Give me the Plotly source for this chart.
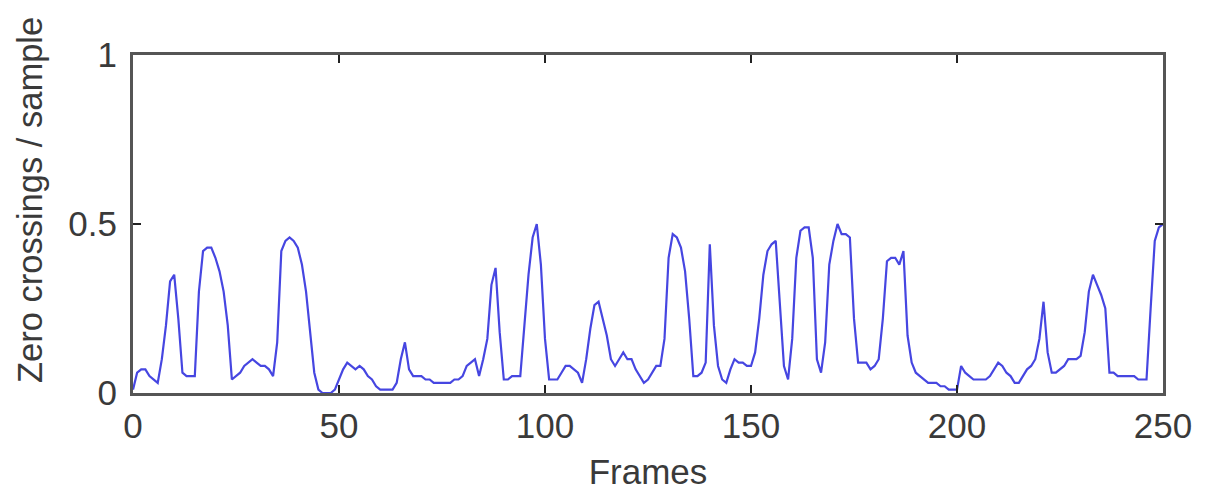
import plotly.graph_objects as go

frames = list(range(0, 251))
zcr = [
    0.01, 0.06, 0.07, 0.07, 0.05, 0.04, 0.03, 0.10, 0.20, 0.33,   # 0-9
    0.35, 0.22, 0.06, 0.05, 0.05, 0.05, 0.30, 0.42, 0.43, 0.43,   # 10-19
    0.40, 0.36, 0.30, 0.20, 0.04, 0.05, 0.06, 0.08, 0.09, 0.10,   # 20-29
    0.09, 0.08, 0.08, 0.07, 0.05, 0.15, 0.42, 0.45, 0.46, 0.45,   # 30-39
    0.43, 0.38, 0.30, 0.18, 0.06, 0.01, 0.00, 0.00, 0.00, 0.01,   # 40-49
    0.04, 0.07, 0.09, 0.08, 0.07, 0.08, 0.07, 0.05, 0.04, 0.02,   # 50-59
    0.01, 0.01, 0.01, 0.01, 0.03, 0.10, 0.15, 0.07, 0.05, 0.05,   # 60-69
    0.05, 0.04, 0.04, 0.03, 0.03, 0.03, 0.03, 0.03, 0.04, 0.04,   # 70-79
    0.05, 0.08, 0.09, 0.10, 0.05, 0.10, 0.16, 0.32, 0.37, 0.18,   # 80-89
    0.04, 0.04, 0.05, 0.05, 0.05, 0.20, 0.35, 0.46, 0.50, 0.38,   # 90-99
    0.16, 0.04, 0.04, 0.04, 0.06, 0.08, 0.08, 0.07, 0.06, 0.03,   # 100-109
    0.10, 0.19, 0.26, 0.27, 0.22, 0.17, 0.10, 0.08, 0.10, 0.12,   # 110-119
    0.10, 0.10, 0.07, 0.05, 0.03, 0.04, 0.06, 0.08, 0.08, 0.16,   # 120-129
    0.40, 0.47, 0.46, 0.43, 0.36, 0.22, 0.05, 0.05, 0.06, 0.09,   # 130-139
    0.44, 0.20, 0.08, 0.04, 0.03, 0.07, 0.10, 0.09, 0.09, 0.08,   # 140-149
    0.08, 0.12, 0.22, 0.35, 0.42, 0.44, 0.45, 0.27, 0.08, 0.04,   # 150-159
    0.16, 0.40, 0.48, 0.49, 0.49, 0.40, 0.10, 0.06, 0.15, 0.38,   # 160-169
    0.45, 0.50, 0.47, 0.47, 0.46, 0.22, 0.09, 0.09, 0.09, 0.07,   # 170-179
    0.08, 0.10, 0.22, 0.39, 0.40, 0.40, 0.38, 0.42, 0.17, 0.09,   # 180-189
    0.06, 0.05, 0.04, 0.03, 0.03, 0.03, 0.02, 0.02, 0.01, 0.01,   # 190-199
    0.01, 0.08, 0.06, 0.05, 0.04, 0.04, 0.04, 0.04, 0.05, 0.07,   # 200-209
    0.09, 0.08, 0.06, 0.05, 0.03, 0.03, 0.05, 0.07, 0.08, 0.10,   # 210-219
    0.16, 0.27, 0.12, 0.06, 0.06, 0.07, 0.08, 0.10, 0.10, 0.10,   # 220-229
    0.11, 0.18, 0.30, 0.35, 0.32, 0.29, 0.25, 0.06, 0.06, 0.05,   # 230-239
    0.05, 0.05, 0.05, 0.05, 0.04, 0.04, 0.04, 0.25, 0.45, 0.49,   # 240-249
    0.50,                                                         # 250
]

x_ticks = [0, 50, 100, 150, 200, 250]
y_ticks = [0, 0.5, 1]
y_tick_labels = ["0", "0.5", "1"]
x_title = "Frames"
y_title = "Zero crossings / sample"

font_family = "Liberation Sans, Arial, sans-serif"
text_color = "#3a3a3a"
frame_color = "#555555"

fig = go.Figure()
fig.add_trace(go.Scatter(
    x=frames, y=zcr, mode="lines",
    line=dict(color="rgb(70,70,225)", width=2.2),
    showlegend=False,
))

fig.update_layout(
    width=1198, height=493,
    margin=dict(l=125, r=43, t=47, b=108),
    paper_bgcolor="white", plot_bgcolor="white",
    font=dict(family=font_family, color=text_color, size=35),
    xaxis=dict(
        range=[0, 250], tickvals=x_ticks, ticks="inside", ticklen=8,
        tickcolor="#222", tickwidth=2,
        showline=True, linecolor=frame_color, linewidth=3, mirror="allticks",
        showgrid=False, zeroline=False,
        tickfont=dict(size=35, family=font_family, color=text_color),
        ticklabelstandoff=0,
        title=dict(text=x_title, font=dict(size=35, family=font_family, color=text_color), standoff=16),
    ),
    yaxis=dict(
        range=[0, 1], tickvals=y_ticks, ticktext=y_tick_labels, ticks="inside", ticklen=8,
        tickcolor="#222", tickwidth=2,
        showline=True, linecolor=frame_color, linewidth=3, mirror="allticks",
        showgrid=False, zeroline=False,
        tickfont=dict(size=35, family=font_family, color=text_color),
        ticklabelstandoff=6,
    ),
    annotations=[dict(
        text=y_title, textangle=-90, showarrow=False,
        xref="paper", yref="paper", x=0, y=0.571,
        xanchor="center", yanchor="middle", xshift=-103,
        font=dict(size=34.5, family=font_family, color=text_color),
    )],
)

fig.write_html("out.html")
